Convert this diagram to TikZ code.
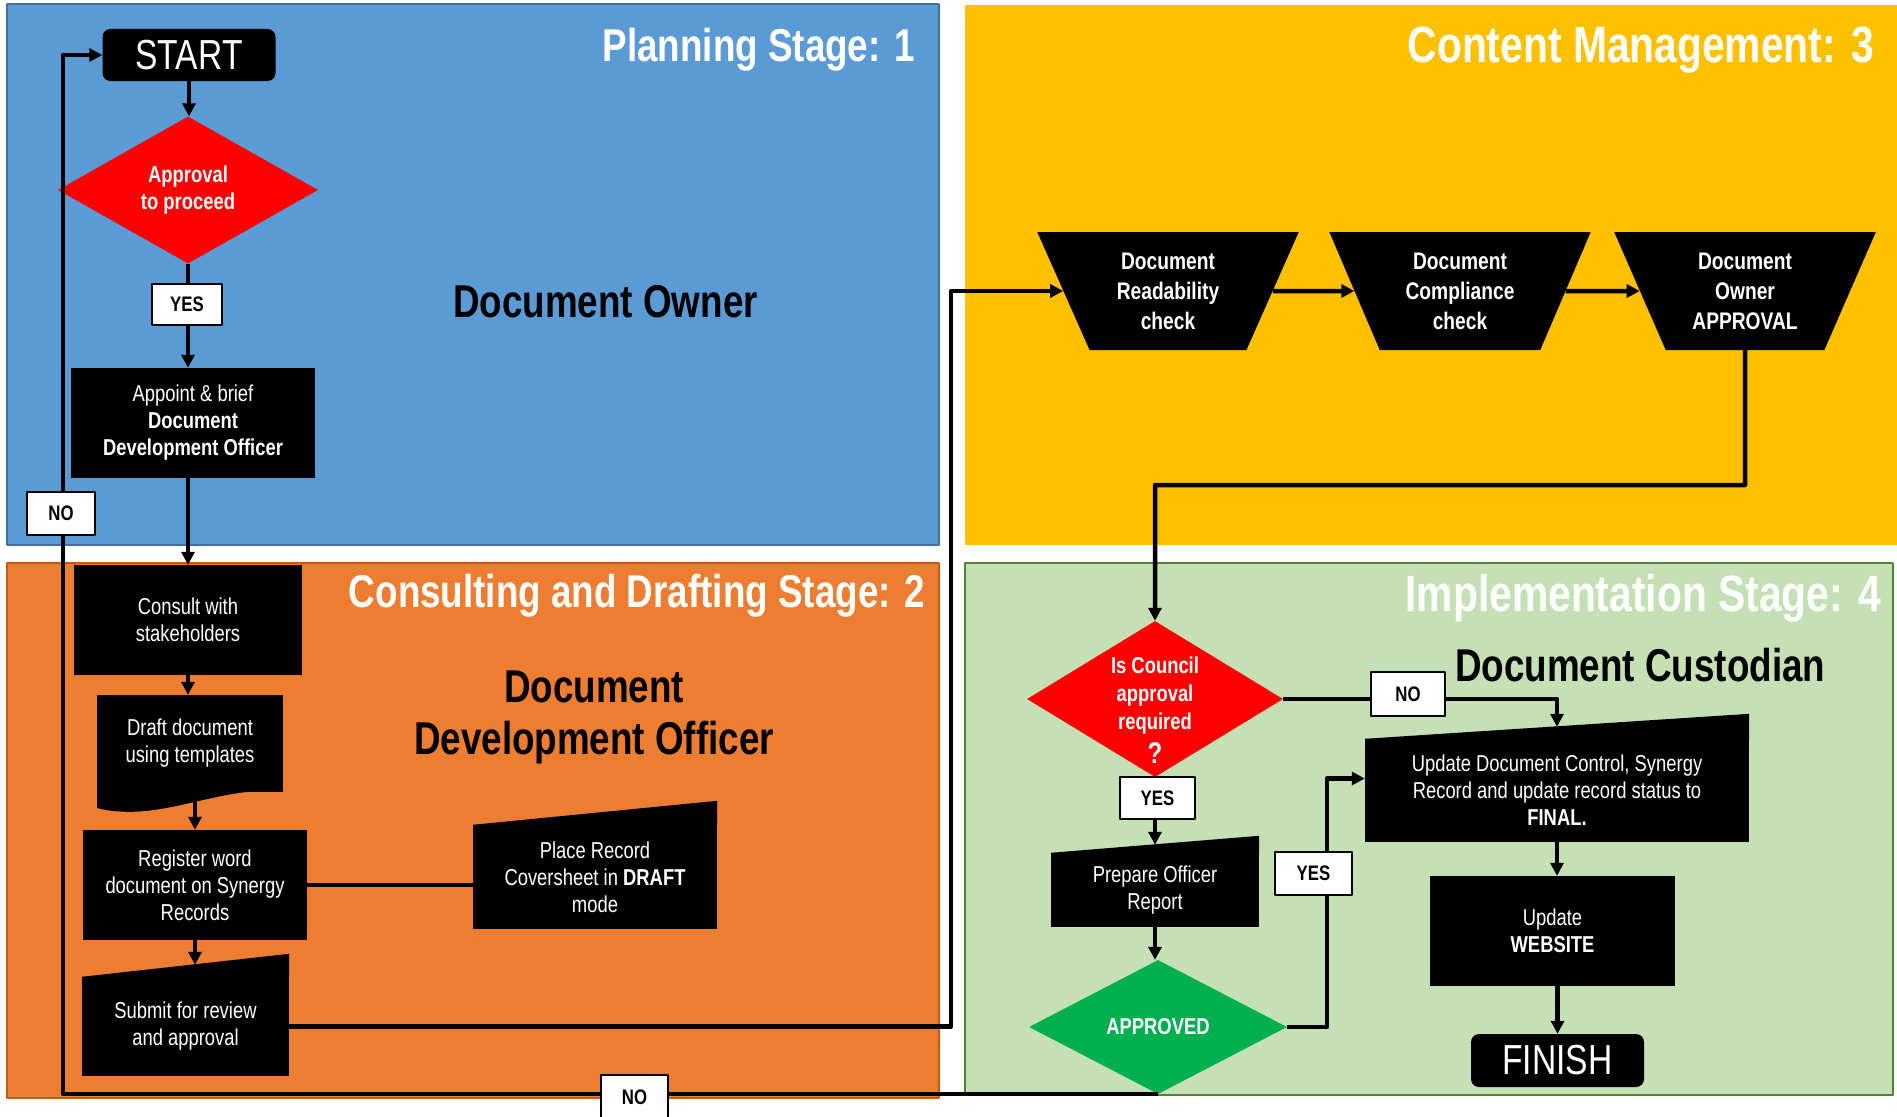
\documentclass[tikz,border=0pt]{standalone}
\usepackage{fontspec}
\setmainfont{Liberation Sans}[FakeStretch=0.8]
\usetikzlibrary{shapes.geometric,arrows.meta}
\definecolor{planblue}{HTML}{5B9BD5}
\definecolor{planedge}{HTML}{41719C}
\definecolor{draftorange}{HTML}{ED7D31}
\definecolor{draftedge}{HTML}{C55A11}
\definecolor{contentyellow}{HTML}{FFC000}
\definecolor{implgreen}{HTML}{C5E0B4}
\definecolor{impledge}{HTML}{548235}
\definecolor{okgreen}{HTML}{00B050}
\newcommand{\fs}[2]{\fontsize{#1}{#2}\selectfont}
\begin{document}
\begin{tikzpicture}[x=1pt,y=-1pt,>={Triangle[length=13pt,width=13pt]},line join=round,
	box/.style={fill=black,text=white,align=center,inner sep=0pt,font=\fs{23}{27}},
	terminal/.style={box,rounded corners=8pt,font=\fs{42}{42}},
	decision/.style={diamond,fill=red,text=white,align=center,inner sep=0pt,font=\bfseries\fs{23}{27}},
	checkbox/.style={trapezium,shape border rotate=180,trapezium angle=66,trapezium stretches=true,
		fill=black,text=white,align=center,inner sep=0pt,minimum width=262pt,minimum height=118pt,
		font=\bfseries\fs{24}{30}},
	tagbox/.style={draw=black,line width=2.5pt,fill=white,inner sep=0pt,font=\bfseries\fs{21}{21}},
	flow/.style={line width=4.5pt},
	stagetitle/.style={text=white,inner sep=0pt,font=\bfseries\fs{46}{46}},
	roletitle/.style={text=black,align=center,inner sep=0pt,font=\bfseries\fs{46}{52}}]
	\def\slanttop#1#2{\fill (#1.north west) -- (#1.north east) -- ([yshift=#2]#1.north east) -- cycle;}
	\useasboundingbox (0,0) rectangle (1897,1116);
	\fill[white] (0,0) rectangle (1897,1116);
	% stage panels
	\fill[planblue,draw=planedge,line width=1.5pt] (7,4) rectangle (939,545);
	\fill[draftorange,draw=draftedge,line width=1.5pt] (7,563) rectangle (939,1098);
	\fill[contentyellow] (965,5) rectangle (1897,545);
	\fill[implgreen,draw=impledge,line width=1.5pt] (965,563) rectangle (1893,1095);
	\node[stagetitle,anchor=base east] (t1) at (915,62) {Planning Stage: 1};
	\node[stagetitle,anchor=base east] (t2) at (925,607) {Consulting and Drafting Stage: 2};
	\node[stagetitle,anchor=base east,font=\bfseries\fs{51}{51}] (t3) at (1874,63) {Content Management: 3};
	\node[stagetitle,anchor=base east,font=\bfseries\fs{51}{51}] (t4) at (1881,611) {Implementation Stage: 4};
	\node[roletitle,anchor=base west] (r1) at (453,317) {Document Owner};
	\node[roletitle] (r2) at (594,717) {Document\\Development Officer};
	\node[roletitle,anchor=base west] (r4) at (1455,681) {Document Custodian};
	% stage 1
	\node[terminal,minimum width=173pt,minimum height=52pt] (start) at (189,55) {START};
	\node[decision,minimum width=260pt,minimum height=147pt] (appr) at (188,190) {Approval\\to proceed};
	\node[box,minimum width=244pt,minimum height=110pt] (appoint) at (193,423)
		{Appoint \& brief\\\textbf{Document}\\\textbf{Development Officer}};
	% stage 2
	\node[box,minimum width=228pt,minimum height=110pt] (consult) at (188,620) {Consult with\\stakeholders};
	\node[box,minimum width=186pt,minimum height=97pt] (draft) at (190,743.5) {Draft document\\using templates};
	\fill (97,790) -- (97,808) .. controls (160,824) and (220,784) .. (283,792) -- (283,790) -- cycle;
	\node[box,minimum width=224pt,minimum height=110pt] (reg) at (195,885) {Register word\\document on Synergy\\Records};
	\node[box,minimum width=244pt,minimum height=104pt] (place) at (595,877)
		{Place Record\\Coversheet in \textbf{DRAFT}\\mode};
	\slanttop{place}{24pt}
	\node[box,minimum width=207pt,minimum height=99pt] (sub) at (185.5,1026.5) {Submit for review\\and approval};
	\slanttop{sub}{23pt}
	% stage 3
	\node[checkbox] (read) at (1168,291) {Document\\Readability\\check};
	\node[checkbox] (comp) at (1460,291) {Document\\Compliance\\check};
	\node[checkbox] (own) at (1745,291) {Document\\Owner\\APPROVAL};
	% stage 4
	\node[decision,shape aspect=1.64,minimum width=256pt,minimum height=156pt,inner ysep=-20pt,
		font=\bfseries\fs{23}{28}] (council) at (1155,699)
		{\rule{0pt}{39pt}Is Council\\approval\\required\\[6pt]{\fs{30}{26}?}};
	\node[box,minimum width=384pt,minimum height=103pt] (upd) at (1557,790.5)
		{Update Document Control, Synergy\\Record and update record status to\\\textbf{FINAL.}};
	\slanttop{upd}{25pt}
	\node[box,minimum width=208pt,minimum height=74pt] (prep) at (1155,890) {Prepare Officer\\Report};
	\slanttop{prep}{17pt}
	\node[decision,fill=okgreen,minimum width=258pt,minimum height=134pt] (appd) at (1158,1027) {APPROVED};
	\node[box,minimum width=245pt,minimum height=110pt] (web) at (1552.5,931) {Update\\\textbf{WEBSITE}};
	\node[terminal,minimum width=173pt,minimum height=53pt] (fin) at (1557.5,1060.5) {FINISH};
	% bends
	\coordinate (loopx) at (63,0);
	\coordinate (subbend) at (951,0);
	\coordinate (ownbend) at (1745,485);
	\coordinate (yesx) at (1327,0);
	\coordinate (subtop) at ([yshift=12pt]sub.north);
	\coordinate (updtop) at ([yshift=12pt]upd.north);
	\coordinate (updin) at ([yshift=12pt]upd.west);
	\coordinate (preptop) at ([yshift=8pt]prep.north);
	% connectors
	\draw[flow,->] (start) -- (start |- appr.north);
	\draw[flow,->] (appr.south) -- (appr.south |- appoint.north);
	\draw[flow,->] (appoint.south -| appr.south) -- (appr.south |- consult.north);
	\draw[flow,->] (consult.south) -- (consult.south |- draft.north);
	\draw[flow,->] (reg.north |- draft.south) -- (reg.north);
	\draw[flow] (reg.east) -- (reg.east -| place.west);
	\draw[flow,->] (reg.south) -- (reg.south |- subtop);
	\draw[flow,->] (sub.east) -- (sub.east -| subbend) -- (subbend |- read.west) -- (read.west);
	\draw[flow,->] (read.east) -- (comp.west);
	\draw[flow,->] (comp.east) -- (own.west);
	\draw[flow,->] (own.south) -- (ownbend) -| (council.north);
	\draw[flow,->] (council.east) -| (updtop);
	\draw[flow,->] (council.south) -- (council.south |- preptop);
	\draw[flow,->] (prep.south) -- (prep.south |- appd.north);
	\draw[flow,->] (appd.east) -- (appd.east -| yesx) -- (yesx |- updin) -- (updin);
	\draw[flow,->] (upd.south) -- (upd.south |- web.north);
	\draw[flow,->] (web.south -| fin.north) -- (fin.north);
	\draw[flow,->] (appd.south) -- (appd.south -| loopx) -- (loopx |- start.west) -- (start.west);
	% yes / no tags
	\node[tagbox,minimum width=70pt,minimum height=41pt] (yes1) at (187,304.5) {YES};
	\node[tagbox,minimum width=68pt,minimum height=43pt] (no1) at (61,513.5) {NO};
	\node[tagbox,minimum width=67pt,minimum height=44pt] (no2) at (634.5,1097) {NO};
	\node[tagbox,minimum width=74pt,minimum height=44pt] (no3) at (1408,694) {NO};
	\node[tagbox,minimum width=75pt,minimum height=42pt] (yes2) at (1157.5,798) {YES};
	\node[tagbox,minimum width=77pt,minimum height=43pt] (yes3) at (1313.5,873.5) {YES};
\end{tikzpicture}
\end{document}
